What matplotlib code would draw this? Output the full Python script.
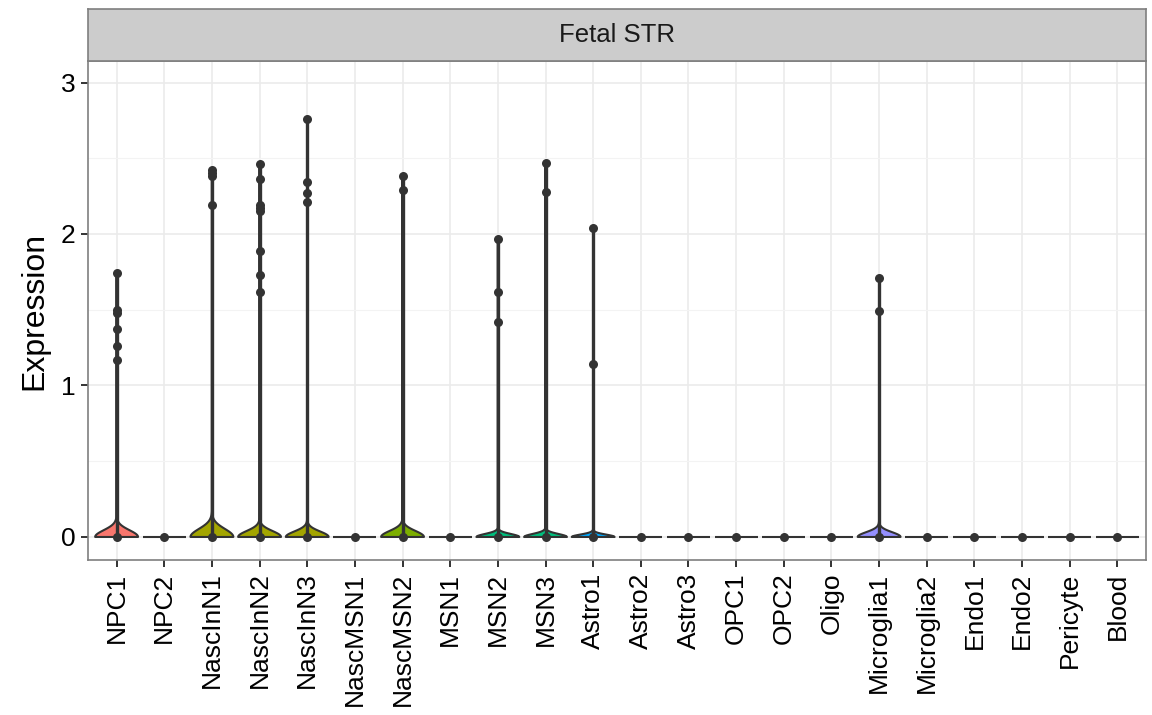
import numpy as np
import matplotlib
matplotlib.use("Agg")
import matplotlib.pyplot as plt
from matplotlib.patches import Polygon

plt.rcParams["font.family"] = ["Liberation Sans", "DejaVu Sans"]

cell_types = ["NPC1", "NPC2", "NascInN1", "NascInN2", "NascInN3", "NascMSN1",
              "NascMSN2", "MSN1", "MSN2", "MSN3", "Astro1", "Astro2", "Astro3",
              "OPC1", "OPC2", "Oligo", "Microglia1", "Microglia2", "Endo1",
              "Endo2", "Pericyte", "Blood"]

# cells with zero expression per cluster (estimated from violin shape)
n_zero = [430, 300, 510, 1090, 920, 300, 470, 300, 1060, 1300, 1070, 300,
          300, 300, 300, 300, 380, 300, 300, 300, 300, 300]

# non-zero expression values (the dots)
nonzero = [
    [1.74, 1.50, 1.48, 1.37, 1.26, 1.17],
    [],
    [2.42, 2.40, 2.38, 2.19],
    [2.46, 2.36, 2.19, 2.17, 2.15, 1.89, 1.73, 1.62],
    [2.76, 2.34, 2.27, 2.21],
    [],
    [2.38, 2.29],
    [],
    [1.97, 1.62, 1.42],
    [2.47, 2.28],
    [2.04, 1.14],
    [], [], [], [], [],
    [1.71, 1.49],
    [], [], [], [], [],
]

# fill per cluster (coloured by broad class)
fills = ["#F8766D", "#F8766D", "#A3A500", "#A3A500", "#A3A500", "#7CAE00",
         "#7CAE00", "#00BF7D", "#00BF7D", "#00BF7D", "#00A9FF", "#00A9FF",
         "#00A9FF", "#00BFC4", "#00BFC4", "#00B0F6", "#9590FF", "#9590FF",
         "#E76BF3", "#E76BF3", "#FF62BC", "#FF62BC"]


def kde_violin(vals):
    n = len(vals)
    sd = np.std(vals, ddof=1)
    iqr = np.subtract(*np.percentile(vals, [75, 25]))
    lo = min(sd, iqr / 1.34) or sd
    bw = 0.9 * lo * n ** -0.2
    y = np.linspace(vals.min(), vals.max(), 512)
    d = np.exp(-0.5 * ((y[:, None] - vals[None, :]) / bw) ** 2).sum(axis=1)
    return y, d / d.max()


dark = "#333333"

fig = plt.figure(figsize=(11.52, 7.15), dpi=100)
ax = fig.add_axes([88 / 1152, 1 - 560 / 715, 1058 / 1152, 499 / 715])
strip = fig.add_axes([88 / 1152, 1 - 61 / 715, 1058 / 1152, 52 / 715])

for i, (name, nz, z) in enumerate(zip(cell_types, nonzero, n_zero)):
    x = i + 1
    vals = np.concatenate([np.zeros(z), np.array(nz, dtype=float)])
    if len(nz) == 0:
        ax.plot([x - 0.45, x + 0.45], [0, 0], color=dark, lw=1.5, zorder=3,
                solid_capstyle="butt")
    else:
        y, d = kde_violin(vals)
        w = 0.45 * d
        xs = np.concatenate([x - w, (x + w)[::-1]])
        ys = np.concatenate([y, y[::-1]])
        ax.add_patch(Polygon(np.column_stack([xs, ys]), closed=True,
                             facecolor=fills[i], edgecolor=dark, lw=1.5,
                             zorder=3, joinstyle="round"))
        ax.plot([x, x], [0, max(nz)], color=dark, lw=2.4, zorder=3,
                solid_capstyle="butt")
    ax.plot(np.full(len(nz) + 1, x), np.concatenate([[0], nz]), "o",
            color=dark, ms=6.5, mew=0, zorder=4)

ax.set_xlim(0.4, len(cell_types) + 0.6)
ax.set_ylim(-0.152, 3.142)
ax.set_xticks(np.arange(1, len(cell_types) + 1))
ax.set_xticklabels(cell_types, rotation=90, fontsize=19)
ax.set_yticks([0, 1, 2, 3])
ax.set_yticklabels(["0", "1", "2", "3"], fontsize=19)
ax.set_yticks([0.5, 1.5, 2.5], minor=True)
ax.grid(True, which="major", color="#EBEBEB", lw=1.2, zorder=0)
ax.grid(True, which="minor", axis="y", color="#F3F3F3", lw=0.8, zorder=0)
ax.set_axisbelow(True)
ax.tick_params(which="major", length=5, width=1.4, color=dark, pad=4)
ax.tick_params(which="minor", length=0)
ax.set_ylabel("Expression", fontsize=23, labelpad=8)
for s in ax.spines.values():
    s.set_color("#7F7F7F")
    s.set_linewidth(1.2)

strip.set_facecolor("#CCCCCC")
strip.set_xticks([])
strip.set_yticks([])
for s in strip.spines.values():
    s.set_color("#7F7F7F")
    s.set_linewidth(1.2)
strip.text(0.5, 0.5, "Fetal STR", ha="center", va="center", fontsize=18.5,
           color="#1A1A1A", transform=strip.transAxes)

fig.savefig("out.png", dpi=100)
